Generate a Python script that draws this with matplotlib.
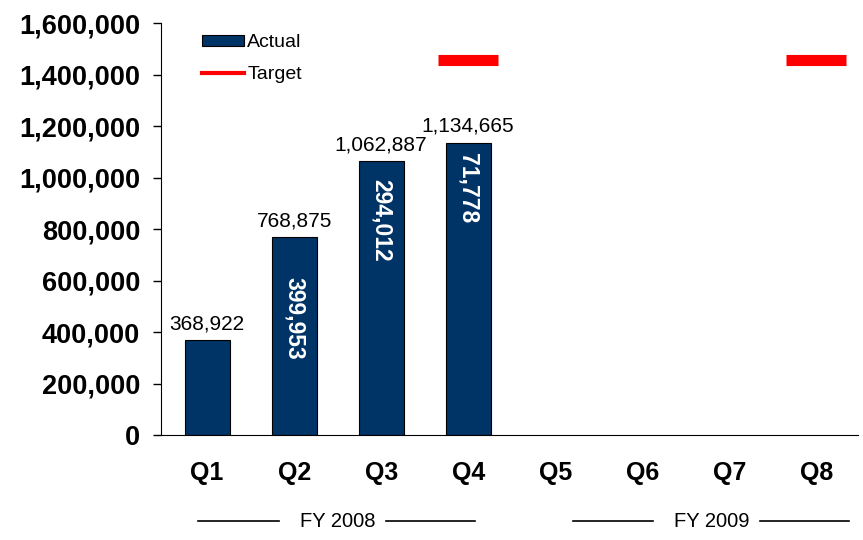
import matplotlib
matplotlib.use('Agg')
import matplotlib.pyplot as plt
from matplotlib.lines import Line2D
from matplotlib.patches import Patch
import matplotlib.transforms as mtransforms

matplotlib.rcParams['font.family'] = ['Liberation Sans', 'DejaVu Sans']

quarters = ['Q1', 'Q2', 'Q3', 'Q4', 'Q5', 'Q6', 'Q7', 'Q8']
actual = [368922, 768875, 1062887, 1134665]
increments = [None, 399953, 294012, 71778]
target_quarters = ['Q4', 'Q8']
targets = [1455000, 1455000]
fiscal_years = ['FY 2008', 'FY 2009']
year_centers = [1.5, 5.8]

BAR_COLOR = '#003366'

fig = plt.figure(figsize=(8.63, 5.4), dpi=100)
ax = fig.add_axes([0.1866, 0.1944, 0.8076, 0.763])

x = list(range(len(quarters)))
ax.bar(x[:len(actual)], actual, width=0.52, color=BAR_COLOR, edgecolor='black', linewidth=0.8)

# target markers
tx = [quarters.index(q) for q in target_quarters]
ax.hlines(targets, [i - 0.345 for i in tx], [i + 0.345 for i in tx], colors='red', linewidth=8)

# values above the bars
for i, v in enumerate(actual):
    ax.annotate(f'{v:,}', (i, v), xytext=(0, 5), textcoords='offset points',
                ha='center', va='bottom', fontsize=15)

# increments inside the bars
inside_offsets = [0, 29, 13, 7]
for i, d in enumerate(increments):
    if d is None:
        continue
    ax.annotate(f'{d:,}', (i, actual[i]), xytext=(0, -inside_offsets[i]), textcoords='offset points',
                ha='center', va='top', rotation=-90, fontsize=16.5, fontweight='bold', color='white')

ax.set_xlim(-0.53, 7.48)
ax.set_ylim(0, 1600000)
ax.set_yticks(range(0, 1600001, 200000))
ax.yaxis.set_major_formatter(matplotlib.ticker.FuncFormatter(lambda v, p: f'{int(v):,}'))
ax.set_xticks(x)
ax.set_xticklabels(quarters)
ax.tick_params(axis='y', direction='out', length=6, width=1, pad=9, labelsize=19.5)
ax.tick_params(axis='x', length=0, pad=19, labelsize=18)
for lab in ax.get_yticklabels() + ax.get_xticklabels():
    lab.set_fontweight('bold')
ax.spines['top'].set_visible(False)
ax.spines['right'].set_visible(False)

# fiscal year brackets
trans = mtransforms.blended_transform_factory(ax.transData, ax.transAxes)
for name, mid in zip(fiscal_years, year_centers):
    ax.text(mid, -0.209, name, transform=trans, ha='center', va='center', fontsize=14.5)
    for x0, x1 in [(mid - 1.6, mid - 0.68), (mid + 0.55, mid + 1.58)]:
        ax.add_line(Line2D([x0, x1], [-0.209, -0.209], transform=trans, color='black',
                           linewidth=1.2, clip_on=False))

handles = [Patch(facecolor=BAR_COLOR, edgecolor='black', linewidth=0.8),
           Line2D([0], [0], color='red', linewidth=3)]
ax.legend(handles, ['Actual', 'Target'], loc='upper left', bbox_to_anchor=(0.033, 1.015),
          frameon=False, fontsize=14, handlelength=2.2, handleheight=0.5,
          handletextpad=0.15, labelspacing=0.75)

fig.savefig('out.png', dpi=100)
